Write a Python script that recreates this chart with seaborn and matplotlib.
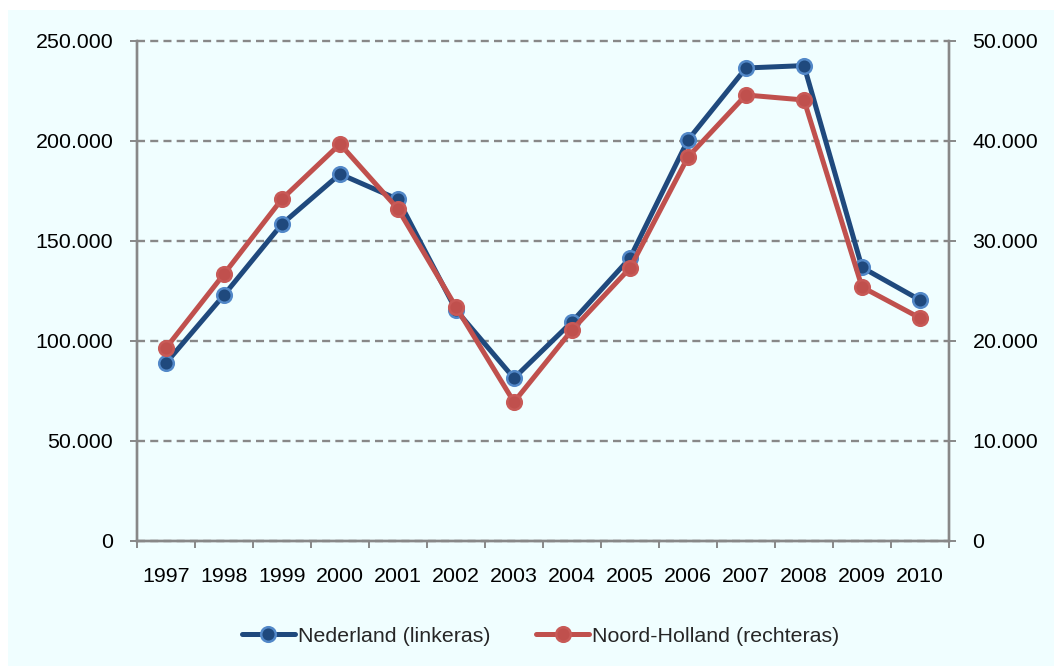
"""Nederland vs Noord-Holland, two y-axes, seaborn line plot."""

import matplotlib

matplotlib.use("Agg")
import matplotlib.pyplot as plt
from matplotlib.patches import Rectangle
from matplotlib.ticker import FuncFormatter, FixedLocator
import numpy as np
import seaborn as sns

YEARS = ["1997", "1998", "1999", "2000", "2001", "2002", "2003",
         "2004", "2005", "2006", "2007", "2008", "2009", "2010"]
NEDERLAND = [89000, 123000, 158500, 183500, 170800, 115500, 81400,
             109600, 141500, 200500, 236500, 237700, 136800, 120500]
NOORD_HOLLAND = [19300, 26700, 34200, 39700, 33200, 23400, 13900,
                 21100, 27300, 38400, 44600, 44100, 25400, 22300]
LABEL_NL = "Nederland (linkeras)"
LABEL_NH = "Noord-Holland (rechteras)"

BLUE = "#1F497D"
BLUE_EDGE = "#5288C8"
RED = "#C0504D"
RED_EDGE = "#C85A57"
GREY = "#888888"
BG = "#F0FEFF"
FS = 15.4

sns.set_theme(style="white")
plt.rcParams["font.family"] = ["Liberation Sans", "DejaVu Sans"]
plt.rcParams["font.size"] = FS


def dotted_thousands(value, _pos):
    return f"{int(round(value)):,}".replace(",", ".")


fig = plt.figure(figsize=(10.54, 6.66), dpi=100)
fig.patch.set_facecolor("white")
fig.patches.append(Rectangle((8 / 1054, 0), 1, 1 - 10 / 666, transform=fig.transFigure,
                             facecolor=BG, edgecolor="none", zorder=-10))

ax = fig.add_axes([137 / 1054, 1 - 541 / 666, (949 - 137) / 1054, 500 / 666])
ax.set_facecolor("none")
ax2 = ax.twinx()
ax2.set_facecolor("none")

pos = np.arange(len(YEARS))
line_kw = dict(marker="o", markersize=10.5, markeredgewidth=1.8, linewidth=3.6)
sns.lineplot(x=pos, y=NEDERLAND, ax=ax, color=BLUE, markerfacecolor=BLUE,
             markeredgecolor=BLUE_EDGE, label=LABEL_NL, legend=False, **line_kw)
sns.lineplot(x=pos, y=NOORD_HOLLAND, ax=ax2, color=RED, markerfacecolor=RED,
             markeredgecolor=RED_EDGE, label=LABEL_NH, legend=False, **line_kw)

ax.set_xlim(-0.5, len(YEARS) - 0.5)
ax.set_ylim(0, 250000)
ax2.set_ylim(0, 50000)
ax.set_yticks(np.arange(0, 250001, 50000))
ax2.set_yticks(np.arange(0, 50001, 10000))
ax.yaxis.set_major_formatter(FuncFormatter(dotted_thousands))
ax2.yaxis.set_major_formatter(FuncFormatter(dotted_thousands))

# year labels centred on categories, tick marks on category boundaries
ax.xaxis.set_major_locator(FixedLocator(np.arange(-0.5, len(YEARS), 1.0)))
ax.xaxis.set_minor_locator(FixedLocator(pos))
ax.set_xticklabels([])
ax.set_xticklabels(YEARS, minor=True)
ax.tick_params(axis="x", which="major", length=5, width=1.4, color=GREY, direction="out", bottom=True)
ax.tick_params(axis="x", which="minor", length=0, pad=19, labelsize=FS, colors="black")
ax.tick_params(axis="y", length=5, width=1.4, color=GREY, direction="out", pad=12, left=True,
               labelsize=FS, labelcolor="black")
ax2.tick_params(axis="y", length=5, width=1.4, color=GREY, direction="out", pad=12, right=True,
                labelsize=FS, labelcolor="black")
ax.set_xlabel("")
ax.set_ylabel("")
ax2.set_ylabel("")

ax.grid(axis="y", color=GREY, linestyle=(0, (3.4, 2.2)), linewidth=1.7)
for gl in ax.yaxis.get_gridlines():
    gl.set_clip_on(False)
ax.set_axisbelow(True)
for a in (ax, ax2):
    for name, spine in a.spines.items():
        spine.set_color(GREY)
        spine.set_linewidth(1.7)
        spine.set_visible(name != "top")

handles = ax.get_lines()[:1] + ax2.get_lines()[:1]
fig.legend(handles, [LABEL_NL, LABEL_NH], loc="center", bbox_to_anchor=(0.513, 1 - 636 / 666),
           ncol=2, frameon=False, handlelength=2.5, handletextpad=0.15, columnspacing=2.1,
           fontsize=FS)

fig.savefig("out.png", dpi=100)
